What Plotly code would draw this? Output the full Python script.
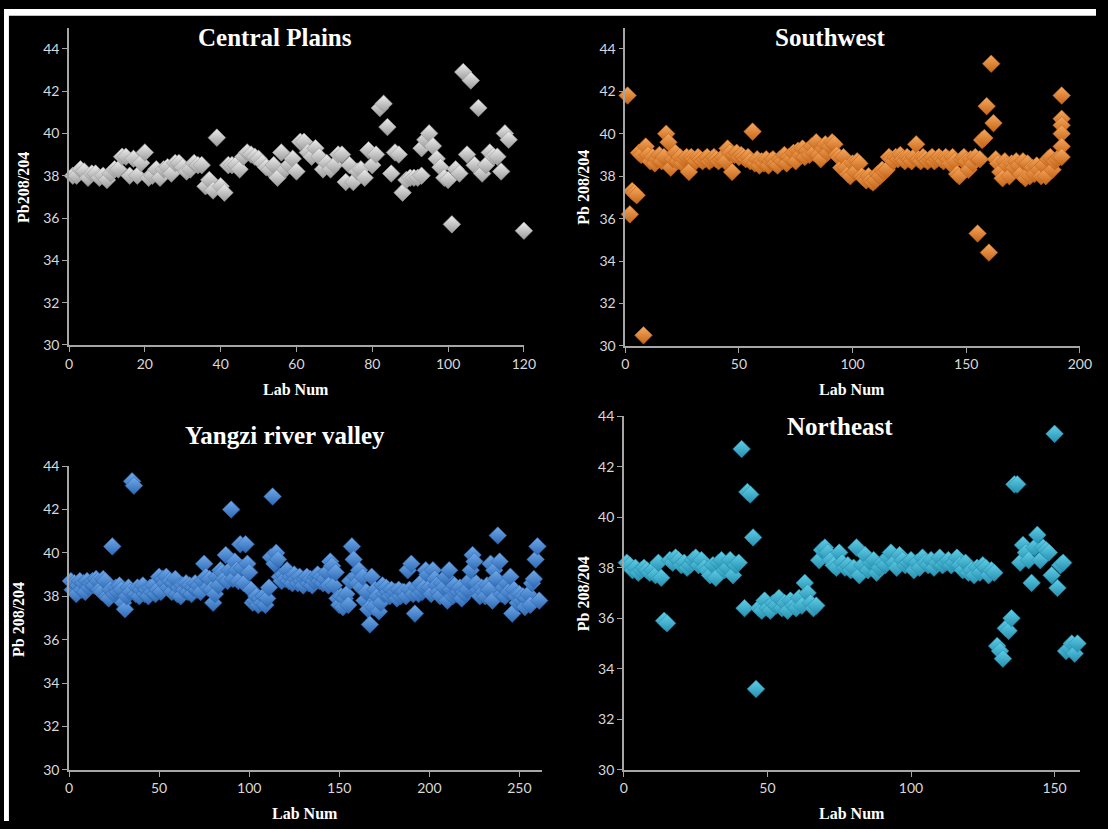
import plotly.graph_objects as go

# ---------------- data ----------------
cp_y = [38.0, 38.0, 38.3, 38.2, 37.9, 38.1, 38.1, 37.9, 38.0, 37.8,
        38.1, 38.3, 38.3, 38.9, 38.9, 38.0, 38.8, 38.0, 38.6, 39.1,
        37.9, 38.0, 38.3, 37.9, 38.3, 38.4, 38.1, 38.6, 38.6, 38.4,
        38.2, 38.3, 38.6, 38.5, 38.5, 37.5, 37.8, 37.3, 39.8, 37.5,
        37.2, 38.5, 38.5, 38.5, 38.3, 38.9, 39.1, 39.0, 38.9, 38.8,
        38.6, 38.4, 38.3, 38.5, 37.9, 39.1, 38.3, 38.5, 38.8, 38.2,
        39.6, 39.6, 39.1, 38.9, 39.3, 38.9, 38.3, 38.6, 38.3, 38.5,
        39.0, 39.0, 37.7, 38.5, 37.7, 38.2, 38.3, 37.9, 39.2, 38.5,
        39.0, 41.2, 41.4, 40.3, 38.1, 39.1, 39.0, 37.2, 37.8, 37.9,
        37.9, 37.9, 39.3, 39.7, 40.0, 39.4, 38.8, 38.4, 37.9, 37.8,
        35.7, 38.3, 38.1, 42.9, 39.0, 42.5, 38.5, 41.2, 38.1, 38.5,
        39.1, 38.9, 38.9, 38.2, 40.0, 39.7,
        35.4, 38.0]
cp_x = list(range(1, 117)) + [120, 93]

sw_y = [41.8, 36.2, 37.3, 37.2, 37.1, 39.1, 39.0, 30.5, 39.4, 39.0,
        38.7, 38.9, 38.6, 38.8, 39.0, 38.7, 38.9, 40.0, 39.6, 38.4,
        38.8, 39.1, 38.7, 38.9, 38.6, 38.8, 38.9, 38.2, 38.9, 38.8,
        38.7, 38.9, 38.8, 38.7, 38.8, 38.9, 38.7, 38.8, 38.9, 38.8,
        38.7, 38.8, 38.9, 38.7, 39.3, 39.1, 38.2, 39.0, 39.1, 38.9,
        39.0, 38.9, 38.8, 38.9, 38.7, 40.1, 38.6, 38.8, 38.5, 38.7,
        38.6, 38.8, 38.5, 38.7, 38.8, 38.6, 38.5, 38.8, 38.7, 39.0,
        38.6, 38.9, 38.8, 39.1, 38.7, 39.2, 39.0, 39.3, 38.9, 39.2,
        39.0, 39.4, 39.1, 39.6, 39.0, 38.8, 39.3, 39.5, 39.1, 39.4,
        39.6, 39.5, 39.0, 38.9, 38.4, 38.9, 38.4, 38.1, 38.0, 38.6,
        38.2, 38.7, 38.6, 38.0, 37.9, 37.8, 38.0, 37.8, 37.7, 37.8,
        38.1, 38.0, 38.3, 38.2, 38.3, 38.9, 38.8, 38.7, 38.9, 38.8,
        39.0, 38.8, 38.7, 38.9, 38.8, 38.7, 38.9, 39.5, 38.8, 38.7,
        38.9, 38.8, 38.7, 38.8, 38.9, 38.7, 38.8, 38.9, 38.8, 38.7,
        38.9, 38.8, 38.6, 38.9, 38.7, 38.1, 38.0, 38.8, 38.9, 38.7,
        38.3, 38.8, 38.6, 38.9, 35.3, 38.8, 39.7, 39.8, 41.3, 34.4,
        43.3, 40.5, 38.8, 38.6, 38.2, 37.9, 38.7, 38.5, 38.0, 38.6,
        38.4, 38.7, 38.5, 38.1, 38.7, 37.9, 38.6, 38.0, 38.4, 38.1,
        38.5, 38.3, 38.0, 38.5, 38.0, 38.8, 38.9, 38.3, 38.7, 38.8,
        38.9, 41.8,
        40.7, 40.4, 40.0, 39.4, 38.9]
sw_x = list(range(1, 193)) + [192, 192, 192, 192, 192]

yz_y = [38.7, 38.3, 38.6, 38.1, 38.5, 38.7, 38.3, 38.6, 38.2, 38.7,
        38.4, 38.6, 38.7, 38.5, 38.8, 38.7, 38.3, 38.2, 38.8, 38.7,
        38.0, 37.9, 38.3, 40.3, 38.1, 38.4, 38.2, 38.5, 38.3, 37.7,
        37.4, 38.0, 38.4, 38.2, 43.3, 43.1, 38.1, 38.4, 38.0, 38.3,
        38.5, 38.1, 38.3, 38.0, 38.4, 38.2, 38.5, 38.1, 38.3, 38.9,
        38.2, 38.8, 38.6, 38.9, 38.4, 38.7, 38.2, 38.6, 38.8, 38.1,
        38.4, 38.0, 38.5, 38.3, 38.6, 38.2, 38.5, 38.1, 38.4, 38.6,
        38.3, 38.5, 38.2, 38.7, 39.5, 38.9, 38.4, 38.8, 38.3, 37.7,
        38.1, 38.9, 38.5, 39.2, 39.1, 38.8, 39.9, 38.7, 39.2, 42.0,
        38.8, 39.6, 39.2, 38.7, 40.4, 39.3, 38.6, 40.4, 39.5, 39.1,
        38.3, 37.7, 37.8, 38.0, 37.6, 37.9, 37.7, 38.0, 37.6, 37.9,
        38.4, 39.8, 42.6, 39.5, 40.0, 39.7, 38.9, 38.7, 39.0, 38.8,
        39.2, 38.7, 38.9, 38.6, 39.0, 38.8, 38.6, 38.9, 38.7, 38.5,
        38.8, 38.9, 38.6, 38.8, 38.5, 38.7, 38.9, 39.0, 38.7, 38.9,
        38.6, 38.8, 39.1, 38.5, 39.6, 39.4, 38.5, 39.1, 37.9, 37.6,
        38.0, 37.5, 37.9, 38.1, 37.6, 38.7, 40.3, 39.7, 38.9, 38.6,
        39.2, 38.4, 38.9, 37.8, 38.2, 37.4, 36.7, 38.9, 37.5, 38.3,
        38.0, 37.3, 37.7, 38.5, 38.1, 38.4, 38.2, 38.0, 38.3, 38.1,
        38.2, 37.9, 38.3, 38.0, 38.2, 38.2, 38.0, 39.2, 38.3, 39.5,
        38.1, 37.2, 38.4, 38.1, 38.6, 38.2, 38.4, 39.2, 39.0, 38.4,
        38.1, 39.2, 38.8, 38.5, 38.2, 38.0, 38.6, 38.4, 38.9, 37.8,
        39.2, 38.3, 38.0, 38.5, 38.1, 38.2, 38.4, 37.9, 38.2, 38.1,
        38.3, 38.7, 39.2, 39.9, 39.6, 38.6, 38.3, 38.0, 38.4, 38.2,
        38.0, 38.5, 38.3, 39.5, 37.8, 39.2, 38.8, 40.8, 39.6, 38.1,
        38.4, 38.0, 38.6, 38.2, 38.9, 37.2, 38.3, 38.0, 37.7, 38.1,
        37.8, 38.0, 37.5, 37.9, 38.1, 37.6, 38.6, 38.8, 39.7, 40.3, 37.8]
yz_x = list(range(1, len(yz_y) + 1))

ne_y = [38.2, 38.1, 37.9, 38.0, 37.8, 37.9, 38.0, 37.9, 37.8, 37.9,
        37.7, 38.2, 37.6, 35.9, 35.8, 38.3, 38.2, 38.4, 38.3, 38.1,
        38.2, 38.0, 38.1, 38.3, 38.4, 38.1, 38.3, 38.0, 37.9, 37.7,
        38.1, 37.6, 38.2, 38.3, 37.9, 38.0, 38.3, 37.7, 38.1, 38.2,
        42.7, 36.4, 41.0, 40.9, 39.2, 33.2, 36.4, 36.3, 36.7, 36.4,
        36.3, 36.6, 36.5, 36.8, 36.4, 36.6, 36.3, 36.7, 36.5, 36.4,
        36.8, 36.5, 37.4, 37.0, 36.6, 36.4, 36.5, 38.3, 38.7, 38.8,
        38.6, 38.3, 38.1, 38.0, 38.6, 38.2, 38.0, 38.1, 37.9, 38.0,
        38.8, 37.7, 38.1, 38.5, 37.9, 38.2, 38.3, 37.8, 38.0, 38.2,
        38.1, 38.4, 38.6, 38.2, 38.0, 38.5, 38.3, 38.1, 38.2, 38.3,
        37.9, 38.2, 38.0, 38.4, 38.2, 38.1, 38.3, 38.0, 38.2, 38.4,
        38.1, 38.2, 38.3, 38.1, 38.2, 38.4, 38.1, 37.9, 38.2, 37.8,
        37.9, 37.7, 38.0, 37.8, 38.1, 38.0, 37.7, 37.9, 37.8, 34.9,
        34.7, 34.4, 35.6, 35.5, 36.0, 41.3, 41.3, 38.2, 38.9, 38.6,
        38.3, 37.4, 38.8, 39.3, 38.3, 38.8, 38.7, 38.6, 37.7, 43.3,
        37.2, 38.1, 38.2, 34.7, 34.8, 35.0, 34.6, 35.0]
ne_x = list(range(1, len(ne_y) + 1))

titles = ["Central Plains", "Southwest", "Yangzi river valley", "Northeast"]
ytitles = ["Pb208/204", "Pb 208/204", "Pb 208/204", "Pb 208/204"]
xtitle = "Lab Num"

# ---------------- layout helpers ----------------
W, H = 1108, 829
def fx(p):
    return p / W
def fy(p):
    return 1 - p / H

panels = [
    dict(x=cp_x, y=cp_y, xr=[0, 120], dt=20, yr=[30, 45], dx=(66, 527.5), dy=(19, 343),
         c="#eeeeee", g="#9a9a9a", t=(275, 29), yt=(20, 182), xt=(296, 388)),
    dict(x=sw_x, y=sw_y, xr=[0, 200], dt=50, yr=[30, 45], dx=(630.4, 1091.6), dy=(19, 344),
         c="#f7a85e", g="#c4661a", t=(838, 29), yt=(588, 182), xt=(860, 388)),
    dict(x=yz_x, y=yz_y, xr=[0, 262.6], dt=50, yr=[30, 44], dx=(66, 546), dy=(466.7, 776.7),
         c="#72aaea", g="#2d69b4", t=(285, 435), yt=(14, 623), xt=(305, 821)),
    dict(x=ne_x, y=ne_y, xr=[0, 158.8], dt=50, yr=[30, 44], dx=(629, 1091.6), dy=(415.7, 776.7),
         c="#62cfe8", g="#2590b0", t=(848, 426), yt=(588, 597), xt=(860, 821)),
]

fig = go.Figure()
layout = dict(
    width=W, height=H,
    margin=dict(l=0, r=0, t=0, b=0),
    paper_bgcolor="#000000",
    plot_bgcolor="#000000",
    showlegend=False,
    annotations=[],
    shapes=[
        dict(type="rect", xref="paper", yref="paper", x0=0, x1=1, y0=fy(7), y1=1,
             fillcolor="#ffffff", line=dict(width=0), layer="below"),
        dict(type="rect", xref="paper", yref="paper", x0=0, x1=fx(5), y0=0, y1=1,
             fillcolor="#ffffff", line=dict(width=0), layer="below"),
    ],
)

tickfont = dict(family="Lato, Carlito, sans-serif", size=14, color="#d9d9d9")
serif = "Liberation Serif, Times New Roman, serif"

for i, p in enumerate(panels):
    n = "" if i == 0 else str(i + 1)
    xa, ya = "x" + n, "y" + n
    fig.add_trace(go.Scatter(
        x=p["x"], y=p["y"], mode="markers", xaxis=xa, yaxis=ya, cliponaxis=False,
        marker=dict(symbol="diamond", size=13.5, color=p["c"],
                    gradient=dict(type="vertical", color=p["g"]),
                    line=dict(width=0.6, color=p["g"])),
        hoverinfo="skip",
    ))
    common = dict(showline=True, linecolor="#a6a6a6", linewidth=1.5, showgrid=False,
                  zeroline=False, ticks="outside", ticklen=5, tickwidth=1,
                  tickcolor="#a6a6a6", tickfont=tickfont)
    layout["xaxis" + n] = dict(common, domain=[fx(p["dx"][0]), fx(p["dx"][1])],
                               range=p["xr"], dtick=p["dt"], tick0=0, anchor=ya)
    layout["yaxis" + n] = dict(common, domain=[fy(p["dy"][1]), fy(p["dy"][0])],
                               range=p["yr"], dtick=2, tick0=30, anchor=xa)
    layout["annotations"].append(dict(
        text="<b>%s</b>" % titles[i], xref="paper", yref="paper",
        x=fx(p["t"][0]), y=fy(p["t"][1]), xanchor="center", yanchor="middle",
        showarrow=False, font=dict(family=serif, size=25, color="#ffffff")))
    layout["annotations"].append(dict(
        text="<b>%s</b>" % ytitles[i], xref="paper", yref="paper", textangle=-90,
        x=fx(p["yt"][0]), y=fy(p["yt"][1]), xanchor="center", yanchor="middle",
        showarrow=False, font=dict(family=serif, size=16, color="#ffffff")))
    layout["annotations"].append(dict(
        text="<b>%s</b>" % xtitle, xref="paper", yref="paper",
        x=fx(p["xt"][0]), y=fy(p["xt"][1]), xanchor="center", yanchor="middle",
        showarrow=False, font=dict(family=serif, size=16, color="#ffffff")))

fig.update_layout(**layout)
fig.write_html("out.html", config={"displayModeBar": False},
               post_script="document.body.style.margin='0';document.body.style.overflow='hidden';")
